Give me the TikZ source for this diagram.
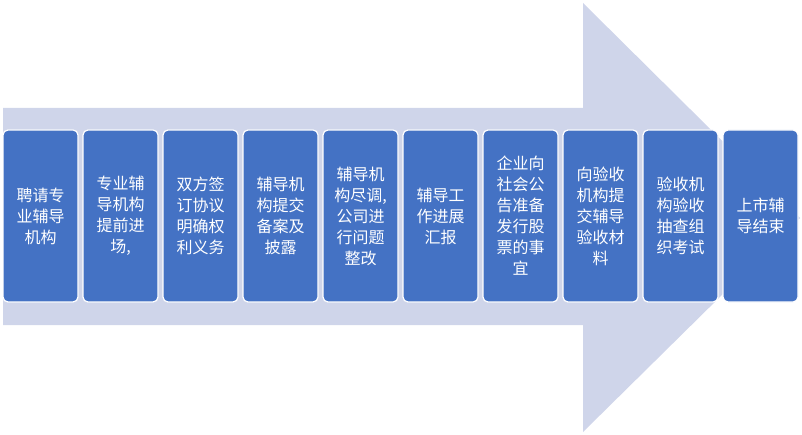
\documentclass[tikz,border=0pt]{standalone}
\usepackage{fontspec}
\setmainfont{Noto Sans CJK SC}
\begin{document}
\begin{tikzpicture}[x=1pt,y=-1pt,
  stepbox/.style={draw=white,line width=1.2pt,fill=boxblue,rounded corners=5pt,minimum width=75pt,minimum height=172pt,text=white,align=center,font=\fontsize{16}{21}\selectfont,inner sep=0pt}]
\definecolor{boxblue}{HTML}{4472C4}
\definecolor{arrowfill}{HTML}{CFD5EA}
\useasboundingbox (0,0) rectangle (802,435);
\fill[arrowfill] (3,108) -- (583,108) -- (583,3) -- (800,218) -- (583,432) -- (583,325) -- (3,325) -- cycle;
\foreach \i/\t in {0/{聘请专\\业辅导\\机构},1/{专业辅\\导机构\\提前进\\场,},2/{双方签\\订协议\\明确权\\利义务},3/{辅导机\\构提交\\备案及\\披露},4/{辅导机\\构尽调,\\公司进\\行问题\\整改},5/{辅导工\\作进展\\汇报},6/{企业向\\社会公\\告准备\\发行股\\票的事\\宜},7/{向验收\\机构提\\交辅导\\验收材\\料},8/{验收机\\构验收\\抽查组\\织考试},9/{上市辅\\导结束}}
  \node[stepbox] (b\i) at (40.5+80*\i,216) {\t};
\end{tikzpicture}
\end{document}
